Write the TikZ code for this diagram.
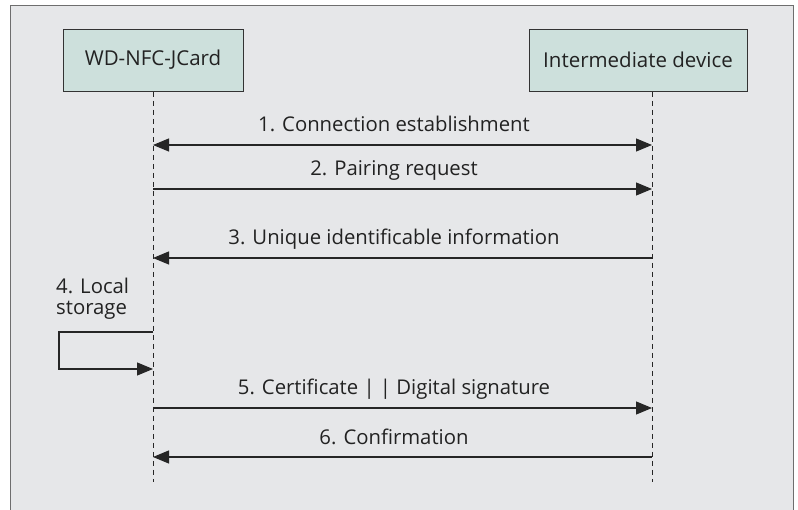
\documentclass[tikz,border=0pt]{standalone}
\usepackage{fontspec}
\setmainfont{Open Sans}
\usetikzlibrary{arrows.meta}
\definecolor{bgc}{HTML}{E6E7E9}
\definecolor{boxc}{HTML}{CDE0DC}
\definecolor{framec}{HTML}{6E6E6E}
\definecolor{txtc}{HTML}{222222}
\begin{document}
\begin{tikzpicture}[x=1pt,y=-1pt,
  actor/.style={draw=black!80,fill=boxc,line width=0.9pt,minimum height=62pt,inner sep=0pt,font=\fontsize{20.5}{24}\selectfont,text=txtc},
  life/.style={dashed,dash pattern=on 5pt off 4pt,line width=0.9pt,black!85},
  msg/.style={line width=1.1pt,black!85,-{Triangle[length=16pt,width=13pt]}},
  lbl/.style={font=\fontsize{20.3}{21}\selectfont,text=txtc,inner sep=0pt},
  mlbl/.style={lbl,midway,anchor=base,xshift=-8.5pt,yshift=13pt}]
\useasboundingbox (0,0) rectangle (798,510);
\fill[white] (0,0) rectangle (798,510);
\draw[framec,fill=bgc,line width=1pt] (10,6) rectangle (793,520);
\node[actor,minimum width=180pt] (A) at (153,60) {WD-NFC-JCard};
\node[actor,minimum width=218pt] (B) at (638,60) {Intermediate device};
\coordinate (At) at (153,92); \coordinate (Ab) at (153,482);
\coordinate (Bt) at (652,92); \coordinate (Bb) at (652,482);
\draw[life] (At) -- (Ab);
\draw[life] (Bt) -- (Bb);
% message coordinates
\coordinate (a1) at (153,145); \coordinate (b1) at (652,145);
\coordinate (a2) at (153,189); \coordinate (b2) at (652,189);
\coordinate (a3) at (153,258); \coordinate (b3) at (652,258);
\coordinate (s1) at (153,332); \coordinate (s2) at (59,332);
\coordinate (s3) at (59,369); \coordinate (s4) at (153,369);
\coordinate (a5) at (153,408); \coordinate (b5) at (652,408);
\coordinate (a6) at (153,457); \coordinate (b6) at (652,457);
\draw[msg,{Triangle[length=16pt,width=13pt]}-{Triangle[length=16pt,width=13pt]}] (a1) -- node[mlbl] (l1) {1. Connection establishment} (b1);
\draw[msg] (a2) -- node[mlbl] (l2) {2. Pairing request} (b2);
\draw[msg,{Triangle[length=16pt,width=13pt]}-] (a3) -- node[mlbl] (l3) {3. Unique identificable information} (b3);
\draw[msg] (s1) -- (s2) -- (s3) -- (s4);
\node[lbl,align=left,anchor=base west] (l4) at (56,315) {4. Local\\storage};
\draw[msg] (a5) -- node[mlbl] (l5) {5. Certificate | | Digital signature} (b5);
\draw[msg,{Triangle[length=16pt,width=13pt]}-] (a6) -- node[mlbl] (l6) {6. Confirmation} (b6);
\end{tikzpicture}
\end{document}
